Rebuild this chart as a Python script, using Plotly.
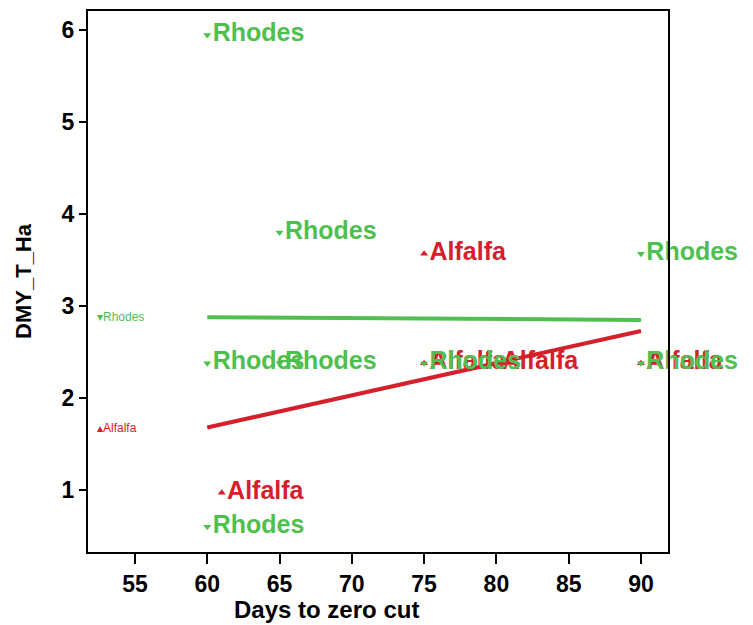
import plotly.graph_objects as go

# ---- data ----
rhodes_days = [60, 60, 60, 65, 65, 75, 90, 90]
rhodes_dmy = [5.95, 2.38, 0.60, 3.80, 2.38, 2.38, 3.57, 2.38]

alfalfa_days = [61, 75, 75, 80, 90]
alfalfa_dmy = [0.97, 3.57, 2.38, 2.38, 2.38]

fit_days = [60, 90]
rhodes_fit = [2.88, 2.85]
alfalfa_fit = [1.68, 2.73]

x_ticks = [55, 60, 65, 70, 75, 80, 85, 90]
y_ticks = [1, 2, 3, 4, 5, 6]

GREEN = "#4fbf4f"
RED = "#d4202a"
FONT = "Liberation Sans, Arial, sans-serif"

fig = go.Figure()

fig.add_trace(go.Scatter(
    x=fit_days, y=rhodes_fit, mode="lines",
    line=dict(color=GREEN, width=4), showlegend=False, hoverinfo="skip"))
fig.add_trace(go.Scatter(
    x=fit_days, y=alfalfa_fit, mode="lines",
    line=dict(color=RED, width=4), showlegend=False, hoverinfo="skip"))

fig.add_trace(go.Scatter(
    x=alfalfa_days, y=alfalfa_dmy, mode="markers+text",
    marker=dict(symbol="triangle-up", size=7, color=RED),
    text=["<b>Alfalfa</b>"] * len(alfalfa_days), textposition="middle right",
    textfont=dict(family=FONT, size=25, color=RED),
    cliponaxis=False, showlegend=False, name="Alfalfa"))
fig.add_trace(go.Scatter(
    x=rhodes_days, y=rhodes_dmy, mode="markers+text",
    marker=dict(symbol="triangle-down", size=7, color=GREEN),
    text=["<b>Rhodes</b>"] * len(rhodes_days), textposition="middle right",
    textfont=dict(family=FONT, size=25, color=GREEN),
    cliponaxis=False, showlegend=False, name="Rhodes"))

# small series labels at the left (SPSS-style)
fig.add_annotation(xref="paper", yref="y", x=0.012, y=rhodes_fit[0],
                   xanchor="left", yanchor="middle", showarrow=False,
                   text="▾Rhodes", font=dict(family=FONT, size=12, color=GREEN))
fig.add_annotation(xref="paper", yref="y", x=0.012, y=alfalfa_fit[0],
                   xanchor="left", yanchor="middle", showarrow=False,
                   text="▴Alfalfa", font=dict(family=FONT, size=12, color=RED))

# x-axis title (placed left of centre, as in the original)
fig.add_annotation(xref="paper", yref="paper", x=0.412, y=-0.106,
                   xanchor="center", yanchor="middle", showarrow=False,
                   text="<b>Days to zero cut</b>",
                   font=dict(family=FONT, size=24, color="black"))

fig.update_layout(
    width=745, height=617,
    margin=dict(l=80, r=85, t=3, b=73),
    plot_bgcolor="white", paper_bgcolor="white",
    font=dict(family=FONT, color="black"),
    xaxis=dict(range=[51.75, 91.87], tickvals=x_ticks, ticks="outside",
               ticklen=10, tickwidth=2, tickcolor="black", automargin=False,
               showline=True, linecolor="black", linewidth=2, mirror=True,
               showgrid=False, zeroline=False,
               tickfont=dict(family=FONT, size=23, color="black", weight="bold")),
    yaxis=dict(range=[0.326, 6.21], tickvals=y_ticks, ticks="outside",
               ticklen=7, tickwidth=2, tickcolor="black", automargin=False,
               showline=True, linecolor="black", linewidth=2, mirror=True,
               showgrid=False, zeroline=False,
               tickfont=dict(family=FONT, size=23, color="black", weight="bold"),
               title=dict(text="<b>DMY_T_Ha</b>", font=dict(family=FONT, size=22),
                          standoff=24)),
)

fig.write_html("out.html")
